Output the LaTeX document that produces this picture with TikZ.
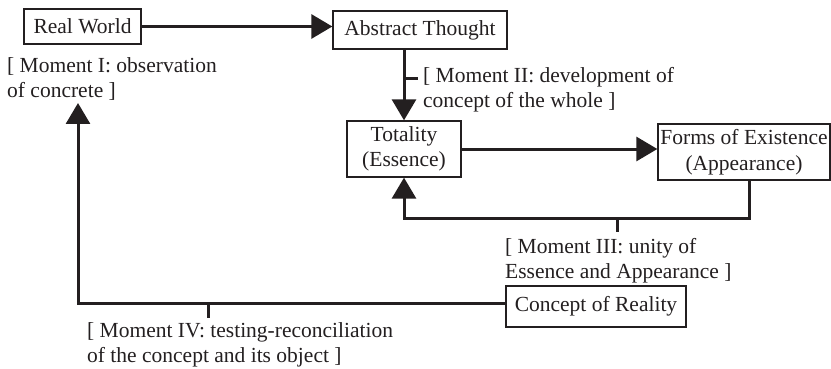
\documentclass[tikz,border=0pt]{standalone}
\usepackage{fontspec}
\setmainfont{Liberation Serif}
\usetikzlibrary{arrows.meta}
\definecolor{ink}{HTML}{231F20}
\begin{document}
\begin{tikzpicture}[x=1pt,y=-1pt,
  every node/.style={font=\fontsize{21.5}{25.5}\selectfont, text=ink},
  box/.style={draw=ink, line width=1.3pt, inner sep=0pt, align=center},
  lbl/.style={inner sep=0pt, align=left, anchor=north west},
  arr/.style={draw=ink, line width=3pt, -{Triangle[length=21pt,width=24pt]}},
  ln/.style={draw=ink, line width=3pt}]
\useasboundingbox (0,0) rectangle (831,369);
\node[box, minimum width=117pt, minimum height=35pt] (rw) at (82.5,26.5) {Real World};
\node[box, minimum width=174pt, minimum height=38pt] (at) at (420,30) {Abstract Thought};
\node[box, minimum width=114pt, minimum height=56pt] (tot) at (404,149) {Totality\\(Essence)};
\node[box, minimum width=172pt, minimum height=56pt] (fe) at (744,152) {Forms of Existence\\(Appearance)};
\node[box, minimum width=180pt, minimum height=41pt] (cr) at (596,306.5) {Concept of Reality};

\node[lbl] (m1) at (7,57) {[ Moment I: observation\\of concrete ]};
\node[lbl] (m2) at (423,67) {[ Moment II: development of\\concept of the whole ]};
\node[lbl] (m3) at (505,238) {[ Moment III: unity of\\Essence and Appearance ]};
\node[lbl] (m4) at (87,322) {[ Moment IV: testing-reconciliation\\of the concept and its object ]};

\coordinate (c2) at (404,79);
\coordinate (c3) at (617,218);
\coordinate (c4) at (208,303);
\coordinate (m1t) at (78,103);

\draw[arr] (rw.east) -- (rw.east -| at.west);
\draw[arr] (tot.north |- at.south) -- (tot.north);
\draw[ln] (c2) -- ++(14,0);
\draw[arr] (tot.east) -- (tot.east -| fe.west);
\draw[arr] ([xshift=5pt]fe.south) |- (c3) -| (tot.south);
\draw[ln] (c3) -- ++(0,14);
\draw[arr] (cr.west |- c4) -| (m1t);
\draw[ln] (c4) -- ++(0,15);
\end{tikzpicture}
\end{document}
